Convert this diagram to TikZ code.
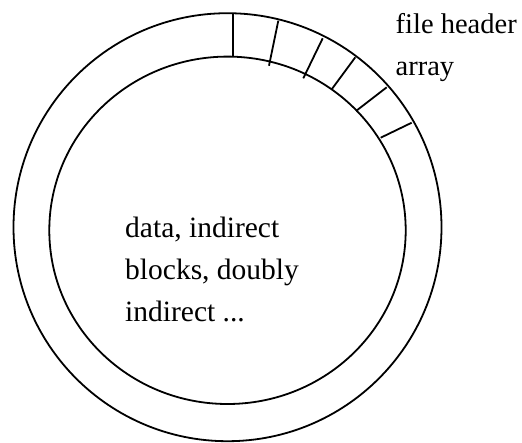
\documentclass[tikz,border=0pt]{standalone}
\usepackage{fontspec}
\setmainfont{Liberation Serif}
\begin{document}
\begin{tikzpicture}[x=1pt,y=-1pt,
  ring/.style={draw=black,line width=1.8pt},
  label/.style={inner sep=0pt,anchor=base west,align=left}]
\useasboundingbox (0,0) rectangle (522,442);
% outer and inner boundaries
\draw[ring] (227.5,227.2) circle [radius=214];
\draw[ring] (227.5,230.3) ellipse [x radius=178.2, y radius=173.7];
% header array divisions
\draw[ring] (232.7,13.3) -- (232.7,57.3);
\draw[ring] (278.3,20.7) -- (269,65.7);
\draw[ring] (322.7,38.3) -- (303.3,78.3);
\draw[ring] (355.3,57.3) -- (331.7,89.3);
\draw[ring] (386.7,87.3) -- (356,111);
\draw[ring] (411.7,122.7) -- (380.7,137.7);
% labels (base anchor = baseline of last line)
\node[label,font=\fontsize{28.5}{41.7}\selectfont] (hdr) at (395.5,75) {file header\\array};
\node[label,font=\fontsize{29.5}{42.2}\selectfont] (data) at (125,321.7) {data, indirect\\blocks, doubly\\indirect ...};
\end{tikzpicture}
\end{document}
